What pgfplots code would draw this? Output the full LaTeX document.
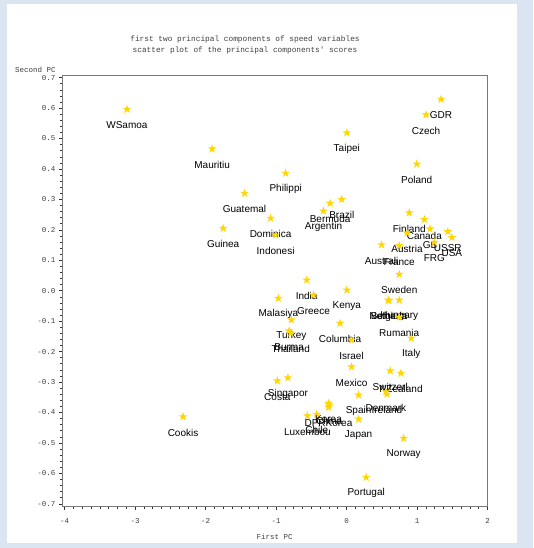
\documentclass[border=0pt]{standalone}
\usepackage{fontspec}
\setmainfont{Liberation Sans}
\setmonofont{Liberation Mono}
\usepackage{pgfplots}
\usepackage{pgfplotstable}
\pgfplotsset{compat=1.18}
\definecolor{bgblue}{RGB}{219,229,241}
\definecolor{stargold}{RGB}{255,214,0}
\definecolor{axgray}{RGB}{120,120,120}
\pgfdeclareplotmark{fstar}{%
  \pgfpathmoveto{\pgfqpoint{0pt}{1\pgfplotmarksize}}%
  \pgfpathlineto{\pgfqpoint{-0.223\pgfplotmarksize}{0.307\pgfplotmarksize}}%
  \pgfpathlineto{\pgfqpoint{-0.951\pgfplotmarksize}{0.309\pgfplotmarksize}}%
  \pgfpathlineto{\pgfqpoint{-0.361\pgfplotmarksize}{-0.117\pgfplotmarksize}}%
  \pgfpathlineto{\pgfqpoint{-0.588\pgfplotmarksize}{-0.809\pgfplotmarksize}}%
  \pgfpathlineto{\pgfqpoint{0pt}{-0.38\pgfplotmarksize}}%
  \pgfpathlineto{\pgfqpoint{0.588\pgfplotmarksize}{-0.809\pgfplotmarksize}}%
  \pgfpathlineto{\pgfqpoint{0.361\pgfplotmarksize}{-0.117\pgfplotmarksize}}%
  \pgfpathlineto{\pgfqpoint{0.951\pgfplotmarksize}{0.309\pgfplotmarksize}}%
  \pgfpathlineto{\pgfqpoint{0.223\pgfplotmarksize}{0.307\pgfplotmarksize}}%
  \pgfpathclose\pgfusepathqfill}
\pgfplotstableread{
name x y
WSamoa -3.115 0.596
Mauritiu -1.906 0.466
Taipei 0.004 0.519
Philippi -0.863 0.386
Guatemal -1.447 0.320
Bermuda -0.233 0.287
Brazil -0.067 0.300
Argentin -0.327 0.262
Dominica -1.077 0.238
Guinea -1.750 0.205
Indonesi -1.006 0.183
GDR 1.341 0.629
Czech 1.128 0.578
Poland 0.996 0.416
Finland 0.890 0.256
Canada 1.104 0.234
GB 1.185 0.203
USSR 1.437 0.194
USA 1.494 0.175
FRG 1.246 0.159
Austria 0.858 0.190
Australi 0.498 0.151
France 0.748 0.148
Sweden 0.748 0.054
Netherla 0.592 -0.031
Belgium 0.602 -0.032
Hungary 0.748 -0.031
Rumania 0.748 -0.087
Italy 0.919 -0.156
Switzerl 0.620 -0.263
NZealand 0.772 -0.271
Denmark 0.559 -0.332
Ireland 0.573 -0.340
Spain 0.171 -0.343
Japan 0.171 -0.422
Norway 0.811 -0.485
Portugal 0.279 -0.613
Kenya 0.004 0.002
Columbia -0.091 -0.107
Israel 0.071 -0.162
Mexico 0.071 -0.250
India -0.565 0.035
Greece -0.469 -0.014
Malasiya -0.967 -0.025
Turkey -0.782 -0.096
Burma -0.814 -0.132
Thailand -0.792 -0.139
Costa -0.982 -0.296
Singapor -0.831 -0.286
Luxembou -0.555 -0.411
Chile -0.422 -0.406
DPRKorea -0.256 -0.383
Korea -0.256 -0.370
China -0.245 -0.376
Cookis -2.319 -0.414
}\pcdata
\begin{document}
\begin{tikzpicture}[x=1pt,y=1pt]
\fill[bgblue] (0,0) rectangle (533,548);
\fill[white] (7,5) rectangle (517,544);
\useasboundingbox (0,0) rectangle (533,548);
\node[font=\ttfamily\fontsize{7.8}{8}\selectfont, text=black!75] at (245,509) {first two principal components of speed variables};
\node[font=\ttfamily\fontsize{7.8}{8}\selectfont, text=black!75] at (245,498) {scatter plot of the principal components' scores};
\node[font=\ttfamily\fontsize{7.5}{8}\selectfont, text=black!75] at (35.5,478) {Second PC};
\node[font=\ttfamily\fontsize{7.5}{8}\selectfont, text=black!75] at (274.7,11) {First PC};
\begin{axis}[
  at={(62pt,41.2pt)}, anchor=south west,
  scale only axis, width=425.5pt, height=431.3pt,
  xmin=-4.036, xmax=2, ymin=-0.71, ymax=0.707,
  xtick={-4,-3,...,2},
  xticklabels={-4,-3,-2,-1,0,1,2},
  ytick={-0.7,-0.6,-0.5,-0.4,-0.3,-0.2,-0.1,0,0.1,0.2,0.3,0.4,0.5,0.6,0.7},
  yticklabels={-0.7,-0.6,-0.5,-0.4,-0.3,-0.2,-0.1,0.0,0.1,0.2,0.3,0.4,0.5,0.6,0.7},
  minor x tick num=7, minor y tick num=4,
  xtick pos=left, ytick pos=left,
  tick align=outside,
  major tick length=3pt, minor tick length=2pt,
  tick style={black!80, line width=0.5pt},
  axis line style={axgray, line width=0.8pt},
  ticklabel style={font=\ttfamily\fontsize{7.5}{8}\selectfont, text=black!75},
  xticklabel style={yshift=-5pt},
  clip=false,
]
\addplot[only marks, mark=fstar, mark size=4.6pt, color=stargold,
  point meta=explicit symbolic,
  nodes near coords,
  every node near coord/.style={anchor=center, yshift=-16pt, font=\fontsize{10}{12}\selectfont, text=black, inner sep=0pt},
] table[x=x, y=y, meta=name] {\pcdata};
\end{axis}
\end{tikzpicture}
\end{document}
